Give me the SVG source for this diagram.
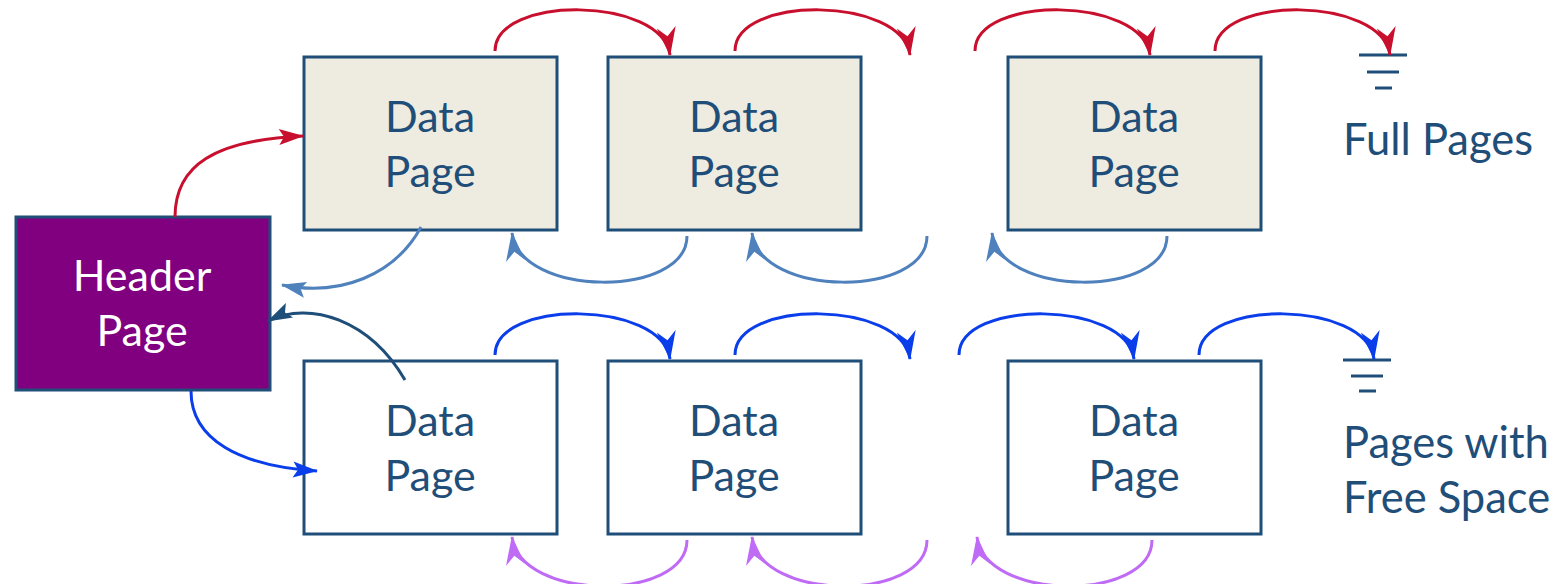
<svg xmlns="http://www.w3.org/2000/svg" width="1560" height="584" viewBox="0 0 1560 584">
<style>
.box{stroke:#1F4E79;stroke-width:3}
.full{fill:#EEEBE1}
.free{fill:#FFFFFF}
.hdr{fill:#800080}
.t{font-family:Lato,"Liberation Sans",sans-serif;font-size:43px;fill:#1F4E79;text-anchor:middle}
.lbl{font-family:Lato,"Liberation Sans",sans-serif;font-size:43.5px;fill:#1F4E79}
.w{fill:#FFFFFF}
.c{fill:none;stroke-width:3}
.red{stroke:#C8102E}
.lb{stroke:#4F81BD}
.bl{stroke:#0B3EEB}
.pu{stroke:#BF6BF5}
.db{stroke:#1F4E79}
.gnd{stroke:#1F4E79;stroke-width:3}
</style>
<defs>
<marker id="mRed" viewBox="-30 -11 31 22" refX="0" refY="0" markerWidth="31" markerHeight="22" markerUnits="userSpaceOnUse" orient="auto"><path d="M1,0 L-28,-9.5 L-19,0 L-28,9.5 Z" fill="#C8102E"/></marker>
<marker id="mLb" viewBox="-30 -11 31 22" refX="0" refY="0" markerWidth="31" markerHeight="22" markerUnits="userSpaceOnUse" orient="auto"><path d="M1,0 L-28,-9.5 L-19,0 L-28,9.5 Z" fill="#4F81BD"/></marker>
<marker id="mBl" viewBox="-30 -11 31 22" refX="0" refY="0" markerWidth="31" markerHeight="22" markerUnits="userSpaceOnUse" orient="auto"><path d="M1,0 L-28,-9.5 L-19,0 L-28,9.5 Z" fill="#0B3EEB"/></marker>
<marker id="mPu" viewBox="-30 -11 31 22" refX="0" refY="0" markerWidth="31" markerHeight="22" markerUnits="userSpaceOnUse" orient="auto"><path d="M1,0 L-28,-9.5 L-19,0 L-28,9.5 Z" fill="#BF6BF5"/></marker>
<marker id="sRed" viewBox="-27 -10 28 20" refX="0" refY="0" markerWidth="28" markerHeight="20" markerUnits="userSpaceOnUse" orient="auto"><path d="M1,0 L-24,-8 L-19,0 L-24,8 Z" fill="#C8102E"/></marker>
<marker id="sLb" viewBox="-27 -10 28 20" refX="0" refY="0" markerWidth="28" markerHeight="20" markerUnits="userSpaceOnUse" orient="auto"><path d="M1,0 L-24,-8 L-19,0 L-24,8 Z" fill="#4F81BD"/></marker>
<marker id="sBl" viewBox="-27 -10 28 20" refX="0" refY="0" markerWidth="28" markerHeight="20" markerUnits="userSpaceOnUse" orient="auto"><path d="M1,0 L-24,-8 L-19,0 L-24,8 Z" fill="#0B3EEB"/></marker>
<marker id="sDb" viewBox="-27 -10 28 20" refX="0" refY="0" markerWidth="28" markerHeight="20" markerUnits="userSpaceOnUse" orient="auto"><path d="M1,0 L-24,-8 L-19,0 L-24,8 Z" fill="#1F4E79"/></marker>
</defs>

<g id="header">
<rect class="box hdr" x="16" y="217" width="254" height="173"/>
<text class="t w" x="142" y="291">Header</text>
<text class="t w" x="142" y="346">Page</text>
</g>

<g id="full1">
<rect class="box full" x="304" y="57" width="253" height="173"/>
<text class="t" x="430" y="132">Data</text>
<text class="t" x="430" y="187">Page</text>
</g>
<g id="full2">
<rect class="box full" x="608" y="57" width="253" height="173"/>
<text class="t" x="734" y="132">Data</text>
<text class="t" x="734" y="187">Page</text>
</g>
<g id="full3">
<rect class="box full" x="1008" y="57" width="253" height="173"/>
<text class="t" x="1134" y="132">Data</text>
<text class="t" x="1134" y="187">Page</text>
</g>

<g id="free1">
<rect class="box free" x="304" y="361" width="253" height="173"/>
<text class="t" x="430" y="436">Data</text>
<text class="t" x="430" y="491">Page</text>
</g>
<g id="free2">
<rect class="box free" x="608" y="361" width="253" height="173"/>
<text class="t" x="734" y="436">Data</text>
<text class="t" x="734" y="491">Page</text>
</g>
<g id="free3">
<rect class="box free" x="1008" y="361" width="253" height="173"/>
<text class="t" x="1134" y="436">Data</text>
<text class="t" x="1134" y="491">Page</text>
</g>

<g id="ground-full">
<line class="gnd" x1="1359" y1="55" x2="1407" y2="55"/>
<line class="gnd" x1="1367" y1="72" x2="1399" y2="72"/>
<line class="gnd" x1="1375" y1="88" x2="1392" y2="88"/>
<text class="lbl" x="1343" y="155">Full Pages</text>
</g>
<g id="ground-free">
<line class="gnd" x1="1343" y1="360" x2="1391" y2="360"/>
<line class="gnd" x1="1351" y1="376" x2="1383" y2="376"/>
<line class="gnd" x1="1359" y1="391" x2="1376" y2="391"/>
<text class="lbl" x="1343" y="458">Pages with</text>
<text class="lbl" x="1343" y="513">Free Space</text>
</g>

<g id="connectors">
<!-- top row forward (red) -->
<path class="c red" d="M495,51 C495,-5 662,-4 670,55" marker-end="url(#mRed)"/>
<path class="c red" d="M735,51 C735,-5 902,-4 910,55" marker-end="url(#mRed)"/>
<path class="c red" d="M975,51 C975,-5 1142,-4 1150,55" marker-end="url(#mRed)"/>
<path class="c red" d="M1215,51 C1215,-5 1382,-4 1390,55" marker-end="url(#mRed)"/>
<!-- top row backward (light blue) -->
<path class="c lb" d="M687,236 C687,298 520,298 512,233" marker-end="url(#mLb)"/>
<path class="c lb" d="M927,236 C927,298 760,298 752,233" marker-end="url(#mLb)"/>
<path class="c lb" d="M1167,236 C1167,298 1000,298 992,233" marker-end="url(#mLb)"/>
<!-- bottom row forward (blue) -->
<path class="c bl" d="M495,355 C495,299 662,300 670,359" marker-end="url(#mBl)"/>
<path class="c bl" d="M735,355 C735,299 902,300 910,359" marker-end="url(#mBl)"/>
<path class="c bl" d="M959,355 C959,299 1126,300 1134,359" marker-end="url(#mBl)"/>
<path class="c bl" d="M1199,355 C1199,299 1366,300 1374,359" marker-end="url(#mBl)"/>
<!-- bottom row backward (purple) -->
<path class="c pu" d="M687,540 C687,602 520,602 512,537" marker-end="url(#mPu)"/>
<path class="c pu" d="M927,540 C927,602 760,602 752,537" marker-end="url(#mPu)"/>
<path class="c pu" d="M1152,540 C1152,602 985,602 977,537" marker-end="url(#mPu)"/>
<!-- header links -->
<path class="c red" d="M175,217 C175,165 215,140 303,136" marker-end="url(#sRed)"/>
<path class="c lb" d="M421,227 C395,275 340,297 282,285" marker-end="url(#sLb)"/>
<path class="c db" d="M405,380 C370,320 310,300 268,321" marker-end="url(#sDb)"/>
<path class="c bl" d="M191,391 C191,440 240,466 317,471" marker-end="url(#sBl)"/>
</g>
</svg>
